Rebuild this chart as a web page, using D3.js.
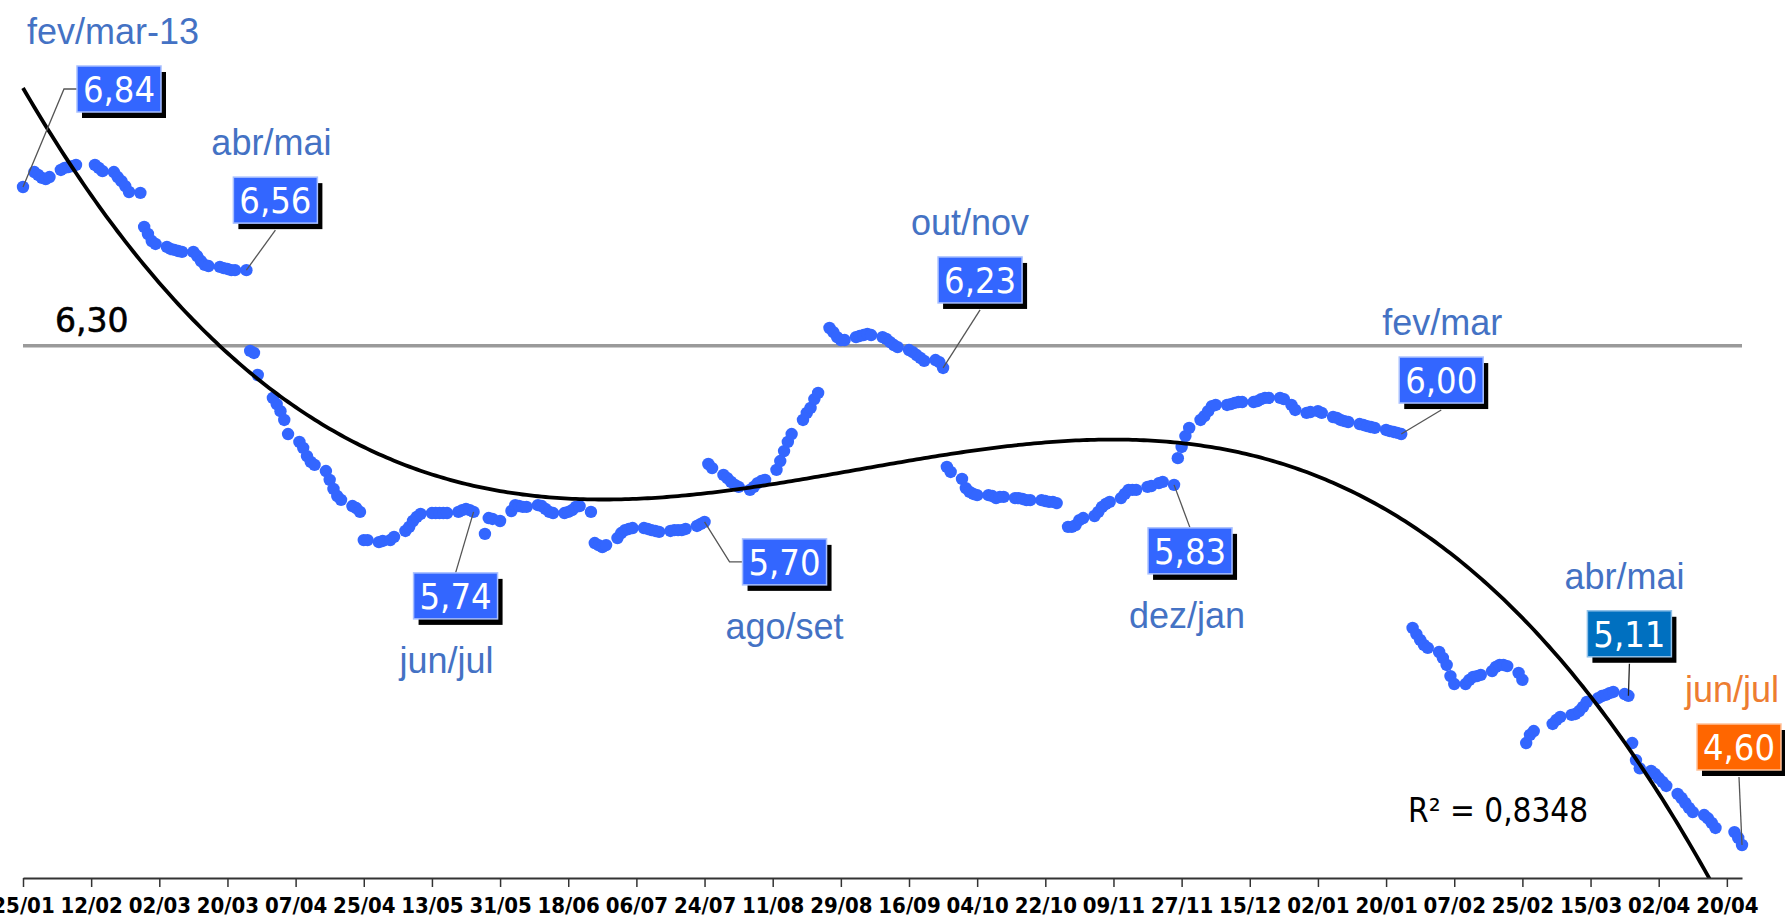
<!DOCTYPE html>
<html>
<head>
<meta charset="utf-8">
<script src="https://cdn.jsdelivr.net/npm/d3@7"></script>
<style>
  html, body { margin: 0; padding: 0; background: #fff; }
  svg { display: block; }
</style>
</head>
<body>
<div id="chart"></div>
<script>
// trading-day rates, one array per contract window
const segmentStarts = [
  "2013-01-25", "2013-02-26", "2013-03-26", "2013-04-25", "2013-05-27", "2013-06-25", "2013-07-25",
  "2013-08-26", "2013-09-26", "2013-10-28", "2013-11-26", "2014-01-27", "2014-02-26", "2014-03-26"
];
const segmentValues = [
  [6.840, 6.891, 6.881, 6.871, 6.867, 6.874, 6.898, 6.905, 6.908, 6.911, 6.915, 6.915, 6.905, 6.894, 6.891, 6.874, 6.860, 6.843, 6.823, 6.820],
  [6.704, 6.680, 6.656, 6.646, 6.636, 6.629, 6.626, 6.622, 6.619, 6.619, 6.605, 6.588, 6.575, 6.571, 6.568, 6.564, 6.561, 6.557, 6.557, 6.557],
  [6.282, 6.275, 6.200, 6.122, 6.101, 6.077, 6.047, 5.999, 5.972, 5.952, 5.924, 5.904, 5.894, 5.873, 5.843, 5.812, 5.788, 5.775, 5.754, 5.747, 5.734],
  [5.638, 5.638, 5.631, 5.635, 5.638, 5.649, 5.669, 5.683, 5.703, 5.717, 5.727, 5.730, 5.730, 5.730, 5.730, 5.730, 5.734, 5.740, 5.744, 5.740, 5.734],
  [5.659, 5.713, 5.710, 5.703, 5.737, 5.757, 5.754, 5.751, 5.751, 5.757, 5.754, 5.744, 5.734, 5.730, 5.730, 5.734, 5.740, 5.751, 5.754, 5.734],
  [5.628, 5.621, 5.614, 5.621, 5.645, 5.662, 5.672, 5.676, 5.679, 5.679, 5.676, 5.672, 5.669, 5.666, 5.669, 5.672, 5.672, 5.672, 5.676, 5.686, 5.693, 5.700],
  [5.897, 5.883, 5.860, 5.849, 5.836, 5.826, 5.819, 5.809, 5.819, 5.832, 5.839, 5.843, 5.877, 5.907, 5.941, 5.972, 5.999, 6.047, 6.071, 6.088, 6.118, 6.139],
  [6.360, 6.346, 6.329, 6.319, 6.319, 6.329, 6.333, 6.336, 6.340, 6.336, 6.329, 6.323, 6.312, 6.302, 6.295, 6.285, 6.278, 6.268, 6.258, 6.248, 6.251, 6.244, 6.224],
  [5.887, 5.870, 5.846, 5.815, 5.802, 5.795, 5.791, 5.791, 5.788, 5.781, 5.785, 5.785, 5.781, 5.781, 5.778, 5.774, 5.774, 5.774, 5.771, 5.768, 5.768, 5.764],
  [5.683, 5.683, 5.689, 5.706, 5.713, 5.720, 5.734, 5.751, 5.761, 5.768, 5.781, 5.795, 5.809, 5.809, 5.809, 5.819, 5.822, 5.832, 5.836, 5.826],
  [5.917, 5.955, 5.992, 6.020, 6.047, 6.060, 6.077, 6.094, 6.098, 6.098, 6.101, 6.105, 6.108, 6.108, 6.108, 6.111, 6.118, 6.122, 6.122, 6.122, 6.118,
   6.098, 6.081, 6.071, 6.074, 6.077, 6.071, 6.057, 6.054, 6.047, 6.043, 6.040, 6.033, 6.030, 6.026, 6.023, 6.020, 6.013, 6.009, 6.006, 6.003, 5.999],
  [5.339, 5.318, 5.298, 5.281, 5.271, 5.257, 5.237, 5.213, 5.175, 5.148, 5.148, 5.162, 5.172, 5.175, 5.179, 5.192, 5.206, 5.213, 5.213, 5.209, 5.186, 5.162],
  [4.947, 4.975, 4.988, 5.012, 5.026, 5.036, 5.043, 5.046, 5.056, 5.070, 5.087, 5.100, 5.107, 5.111, 5.117, 5.121, 5.114, 5.108],
  [4.947, 4.889, 4.861, 4.852, 4.842, 4.828, 4.815, 4.801, 4.774, 4.760, 4.743, 4.726, 4.712, 4.702, 4.691, 4.675, 4.658, 4.644, 4.624, 4.600]
];
// market holidays skipped when stepping through trading days
const holidays = [
  "2013-02-11", "2013-02-12", "2013-03-29", "2013-05-01", "2013-05-30", "2013-11-20",
  "2013-12-25", "2014-01-01", "2014-03-03", "2014-03-04", "2014-04-18", "2014-04-21"
];
const tickDates = [
  "2013-01-25", "2013-02-12", "2013-03-02", "2013-03-20", "2013-04-07", "2013-04-25", "2013-05-13",
  "2013-05-31", "2013-06-18", "2013-07-06", "2013-07-24", "2013-08-11", "2013-08-29", "2013-09-16",
  "2013-10-04", "2013-10-22", "2013-11-09", "2013-11-27", "2013-12-15", "2014-01-02", "2014-01-20",
  "2014-02-07", "2014-02-25", "2014-03-15", "2014-04-02", "2014-04-20"
];
const refLevel = 6.30;
const refLabel = "6,30";
const r2Label = "R\u00B2 = 0,8348";

// callouts: period name, value text, anchored to first/last point of a segment
const calloutPeriods = ["fev/mar-13", "abr/mai", "jun/jul", "ago/set", "out/nov", "dez/jan", "fev/mar", "abr/mai", "jun/jul"];
const calloutValues = ["6,84", "6,56", "5,74", "5,70", "6,23", "5,83", "6,00", "5,11", "4,60"];
const calloutSegment = [0, 1, 3, 5, 7, 9, 10, 12, 13];
const calloutEnd = ["first", "last", "last", "last", "last", "last", "last", "last", "last"];

// layout of the callouts (box centre offset from anchor, label above/below, link style)
const calloutLayout = [
  { dx: 96, dy: -98, text: "above", tdx: -6, link: "elbow-left", fill: "#3366ff", stroke: "#a9c0ff", color: "#4472c4" },
  { dx: 29, dy: -70, text: "above", tdx: -4, link: "bottom", fill: "#3366ff", stroke: "#a9c0ff", color: "#4472c4" },
  { dx: -18, dy: 84, text: "below", tdx: -9, link: "top", fill: "#3366ff", stroke: "#a9c0ff", color: "#4472c4" },
  { dx: 80, dy: 40, text: "below", tdx: 0, link: "elbow-left", fill: "#3366ff", stroke: "#a9c0ff", color: "#4472c4" },
  { dx: 37, dy: -88, text: "above", tdx: -10, link: "bottom", fill: "#3366ff", stroke: "#a9c0ff", color: "#4472c4" },
  { dx: 16, dy: 66, text: "below", tdx: -3, link: "top", fill: "#3366ff", stroke: "#a9c0ff", color: "#4472c4" },
  { dx: 40, dy: -54, text: "above", tdx: 1, link: "bottom", fill: "#3366ff", stroke: "#a9c0ff", color: "#4472c4" },
  { dx: 1, dy: -62, text: "above", tdx: -5, link: "bottom", fill: "#0070c0", stroke: "#8fc0e8", color: "#4472c4" },
  { dx: -3, dy: -98, text: "above", tdx: -7, link: "bottom", fill: "#ff6600", stroke: "#ffc29a", color: "#ed7d31" }
];

const width = 1785, height = 918;
const axisY = 878;
const parse = d3.utcParse("%Y-%m-%d");
const holidaySet = new Set(holidays);

function nextTradingDay(d) {
  let n = d3.utcDay.offset(d, 1);
  while (n.getUTCDay() === 0 || n.getUTCDay() === 6 || holidaySet.has(d3.utcFormat("%Y-%m-%d")(n))) {
    n = d3.utcDay.offset(n, 1);
  }
  return n;
}

const segments = segmentValues.map((vals, i) => {
  let d = parse(segmentStarts[i]);
  return vals.map((v, k) => {
    if (k > 0) d = nextTradingDay(d);
    return { date: d, value: v };
  });
});
const points = segments.flat();

const start = parse("2013-01-25"), end = parse("2014-04-24");
const x = d3.scaleUtc().domain([start, end]).range([23, 1742]);
const y = d3.scaleLinear().domain([4.60, 6.84]).range([845, 187]);

// cubic least-squares trend, like the spreadsheet's polynomial trendline
function polyfit(xs, ys, deg) {
  const n = deg + 1;
  const A = d3.range(n).map(() => new Array(n + 1).fill(0));
  xs.forEach((xv, k) => {
    const p = d3.range(n).map(i => Math.pow(xv, i));
    for (let i = 0; i < n; i++) {
      for (let j = 0; j < n; j++) A[i][j] += p[i] * p[j];
      A[i][n] += p[i] * ys[k];
    }
  });
  for (let i = 0; i < n; i++) {
    let m = i;
    for (let r = i + 1; r < n; r++) if (Math.abs(A[r][i]) > Math.abs(A[m][i])) m = r;
    [A[i], A[m]] = [A[m], A[i]];
    for (let r = 0; r < n; r++) {
      if (r === i) continue;
      const f = A[r][i] / A[i][i];
      for (let c = i; c <= n; c++) A[r][c] -= f * A[i][c];
    }
  }
  return A.map((row, i) => row[n] / row[i]);
}
const dayOf = d => d3.utcDay.count(start, d) / 100;
const coef = polyfit(points.map(p => dayOf(p.date)), points.map(p => p.value), 3);
const trend = t => coef[0] + coef[1] * t + coef[2] * t * t + coef[3] * t * t * t;
const trendDays = d3.utcDay.range(start, d3.utcDay.offset(end, 1));

const svg = d3.select('#chart')
  .append('svg')
  .attr('width', width)
  .attr('height', height);

svg.append('defs').append('clipPath').attr('id', 'plot')
  .append('rect').attr('x', 0).attr('y', 0).attr('width', width).attr('height', axisY);

// reference level
svg.append('line')
  .attr('x1', x.range()[0]).attr('x2', x.range()[1])
  .attr('y1', y(refLevel)).attr('y2', y(refLevel))
  .attr('stroke', '#9a9a9a').attr('stroke-width', 3.5);

svg.append('text')
  .attr('x', 55).attr('y', y(refLevel) - 14)
  .attr('font-family', 'DejaVu Sans, sans-serif')
  .attr('font-size', 33)
  .attr('fill', '#000')
  .attr('stroke', '#000').attr('stroke-width', 0.6)
  .text(refLabel);

// points
svg.append('g')
  .selectAll('circle')
  .data(points)
  .join('circle')
  .attr('cx', d => x(d.date))
  .attr('cy', d => y(d.value))
  .attr('r', 6.2)
  .attr('fill', '#3366ff');

// trend line
svg.append('path')
  .datum(trendDays)
  .attr('clip-path', 'url(#plot)')
  .attr('fill', 'none')
  .attr('stroke', '#000')
  .attr('stroke-width', 3.8)
  .attr('d', d3.line().x(d => x(d)).y(d => y(trend(dayOf(d)))));

// x axis
const xAxis = svg.append('g')
  .attr('transform', `translate(0,${axisY})`)
  .call(d3.axisBottom(x)
    .tickValues(tickDates.map(parse))
    .tickFormat(d3.utcFormat('%d/%m'))
    .tickSize(9)
    .tickSizeOuter(0));
xAxis.select('.domain').attr('stroke', '#333').attr('stroke-width', 2);
xAxis.selectAll('.tick line').attr('stroke', '#333').attr('stroke-width', 1.5);
xAxis.selectAll('.tick text')
  .attr('y', 35).attr('dy', null)
  .attr('fill', '#000')
  .attr('font-family', 'DejaVu Sans Condensed, DejaVu Sans, sans-serif')
  .attr('font-stretch', 'condensed')
  .attr('font-weight', 'bold')
  .attr('font-size', 22);

// callouts
const boxW = 84, boxH = 46;
const callouts = calloutPeriods.map((period, i) => {
  const seg = segments[calloutSegment[i]];
  const p = calloutEnd[i] === 'first' ? seg[0] : seg[seg.length - 1];
  const ax = x(p.date), ay = y(p.value);
  const L = calloutLayout[i];
  const cx = ax + L.dx, cy = ay + L.dy;
  return { period, value: calloutValues[i], ax, ay, cx, cy, L };
});

const cg = svg.append('g').selectAll('g').data(callouts).join('g');

cg.append('path')
  .attr('fill', 'none')
  .attr('stroke', (d, i) => i === 7 ? '#222' : '#555')
  .attr('stroke-width', 1.3)
  .attr('d', d => {
    const left = d.cx - boxW / 2, top = d.cy - boxH / 2, bottom = d.cy + boxH / 2;
    if (d.L.link === 'elbow-left') return `M${d.ax},${d.ay}L${left - 13},${d.cy}L${left},${d.cy}`;
    if (d.L.link === 'bottom') return `M${d.ax},${d.ay}L${d.cx},${bottom + 7}`;
    return `M${d.ax},${d.ay}L${d.cx},${top}`;
  });

cg.append('rect')
  .attr('x', d => d.cx - boxW / 2 + 5).attr('y', d => d.cy - boxH / 2 + 6)
  .attr('width', boxW).attr('height', boxH)
  .attr('fill', '#000');

cg.append('rect')
  .attr('x', d => d.cx - boxW / 2).attr('y', d => d.cy - boxH / 2)
  .attr('width', boxW).attr('height', boxH)
  .attr('fill', d => d.L.fill)
  .attr('stroke', d => d.L.stroke).attr('stroke-width', 1.5);

cg.append('text')
  .attr('x', d => d.cx).attr('y', d => d.cy + 13)
  .attr('text-anchor', 'middle')
  .attr('fill', '#fff')
  .attr('font-family', 'DejaVu Sans Condensed, DejaVu Sans, sans-serif')
  .attr('font-stretch', 'condensed')
  .attr('font-size', 36)
  .text(d => d.value);

cg.append('text')
  .attr('x', d => d.cx + d.L.tdx)
  .attr('y', d => d.L.text === 'above' ? d.cy - boxH / 2 - 22 : d.cy + boxH / 2 + 54)
  .attr('text-anchor', 'middle')
  .attr('fill', d => d.L.color)
  .attr('font-family', 'Liberation Sans, Arial, sans-serif')
  .attr('font-size', 36)
  .text(d => d.period);

// goodness of fit
svg.append('text')
  .attr('x', 1408).attr('y', 822)
  .attr('font-family', 'DejaVu Sans Condensed, DejaVu Sans, sans-serif')
  .attr('font-stretch', 'condensed')
  .attr('font-size', 33)
  .attr('fill', '#000')
  .attr('xml:space', 'preserve')
  .text(r2Label);
</script>
</body>
</html>
